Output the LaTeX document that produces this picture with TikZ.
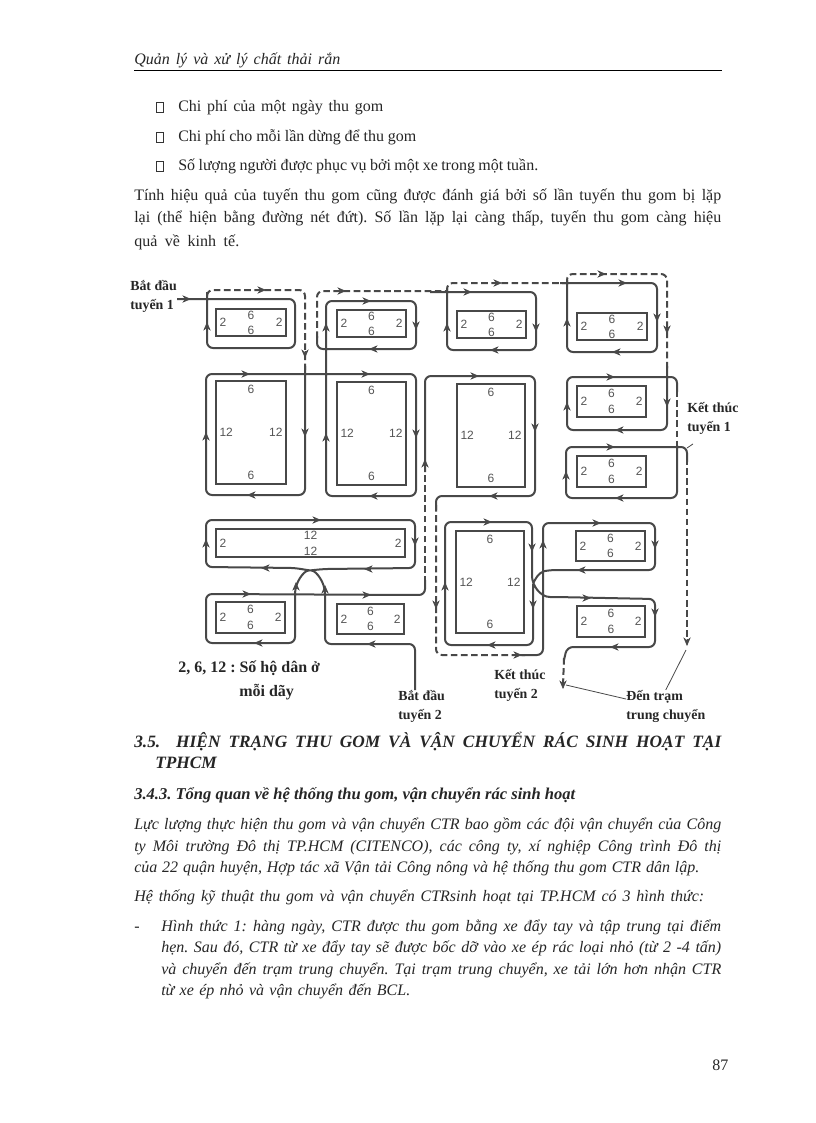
\documentclass[tikz,border=0pt]{standalone}
\usepackage{fontspec}
\setmainfont{Liberation Serif}
\newfontfamily\numfont{Liberation Sans}
\usetikzlibrary{arrows.meta}
\definecolor{routegray}{HTML}{484848}
\definecolor{numgray}{HTML}{555555}
\frenchspacing
\tikzset{
  pageline/.style={anchor=base west,inner sep=0pt,font=\fontsize{12}{14}\selectfont,text=black!85},
  itline/.style={pageline,font=\fontsize{12}{14}\selectfont\itshape},
  headline/.style={pageline,font=\fontsize{13}{15}\selectfont\bfseries\itshape},
  tickbox/.style={draw=black!80,line width=0.6pt,inner sep=0pt,minimum width=5pt,minimum height=7.5pt},
  citybox/.style={draw=routegray,line width=1.1pt,inner sep=0pt},
  citynum/.style={inner sep=0pt,text=numgray,font=\fontsize{9}{11}\selectfont\numfont},
  route/.style={draw=routegray,line width=1.5pt,rounded corners=4.5pt},
  dashroute/.style={route,dash pattern=on 5pt off 2.6pt},
  routetip/.style={draw=routegray,line width=0.4pt,-{Stealth[length=6.5pt,width=5.5pt]}},
  pointer/.style={draw=routegray,line width=0.6pt},
  maplabel/.style={inner sep=0pt,align=left,font=\fontsize{10.4}{14.25}\selectfont\bfseries,text=black!85},
}
% one line of page text, stretched to a given width
\newcommand{\pageline}[6]{\node[#2] (#1) at (#3,#4) {\makebox[\dimexpr#5pt*3/4\relax][s]{#6}};}
% one city block: name, centre x, y, width, height, top, side numbers, inset of the top number
\newcommand{\cityblock}[8]{%
  \node[citybox,minimum width=#4*0.75pt,minimum height=#5*0.75pt] (#1) at (#2,#3) {};
  \node[citynum] (#1t) at ([yshift=-#8]#1.north) {#6};
  \node[citynum] (#1b) at ([yshift=#8]#1.south) {#6};
  \node[citynum,anchor=west] (#1l) at ([xshift=3pt]#1.west) {#7};
  \node[citynum,anchor=east] (#1r) at ([xshift=-3pt]#1.east) {#7};
}
\begin{document}
\begin{tikzpicture}[x=0.75pt,y=-0.75pt]

\useasboundingbox (0,0) rectangle (816,1123);
\fill[white] (0,0) rectangle (816,1123);

% page header
\pageline{header}{itline}{134}{65}{206}{Quản lý và xử lý chất thải rắn}
\draw[line width=0.7pt] (134,70.5) -- (722,70.5);

% list above the map
\node[tickbox] (tick1) at (160,107) {};
\node[tickbox] (tick2) at (160,137) {};
\node[tickbox] (tick3) at (160,166) {};
\pageline{item1}{pageline}{178}{112}{205}{Chi phí của một ngày thu gom}
\pageline{item2}{pageline}{178}{141.5}{238}{Chi phí cho mỗi lần dừng để thu gom}
\pageline{item3}{pageline}{178}{171}{360}{Số lượng người được phục vụ bởi một xe trong một tuần.}
\pageline{para1}{pageline}{134}{200.5}{587}{Tính hiệu quả của tuyến thu gom cũng được đánh giá bởi số lần tuyến thu gom bị lặp}
\pageline{para2}{pageline}{134}{222.5}{587}{lại (thể hiện bằng đường nét đứt). Số lần lặp lại càng thấp, tuyến thu gom càng hiệu}
\pageline{para3}{pageline}{134}{246}{105}{quả về kinh tế.}

% the blocks
\cityblock{ba}{251}{322.5}{70}{27}{6}{2}{5pt}
\cityblock{bb}{371.5}{323.5}{69}{27}{6}{2}{5pt}
\cityblock{bc}{491.5}{324.5}{69}{27}{6}{2}{5pt}
\cityblock{bd}{612}{326.5}{70}{27}{6}{2}{5pt}
\cityblock{be}{251}{432.5}{70}{103}{6}{12}{7pt}
\cityblock{bf}{371.5}{433.5}{69}{103}{6}{12}{7pt}
\cityblock{bg}{491}{435.5}{68}{103}{6}{12}{7pt}
\cityblock{bh}{611.5}{401.5}{69}{31}{6}{2}{6pt}
\cityblock{bi}{611.5}{471.5}{69}{31}{6}{2}{6pt}
\cityblock{bj}{310.5}{543}{189}{28}{12}{2}{5pt}
\cityblock{bk}{250.5}{617.5}{69}{31}{6}{2}{6pt}
\cityblock{bl}{370.5}{619}{67}{30}{6}{2}{6pt}
\cityblock{bm}{490}{582}{68}{102}{6}{12}{7pt}
\cityblock{bn}{610.5}{546}{69}{30}{6}{2}{6pt}
\cityblock{bo}{611}{621.5}{68}{31}{6}{2}{6pt}

% labels on the map
\node[maplabel,anchor=north west] (start1) at (130,280) {Bắt đầu\\tuyến 1};
\node[maplabel,anchor=north west] (end1) at (687,402) {Kết thúc\\tuyến 1};
\node[maplabel,anchor=north west] (start2) at (398,690) {Bắt đầu\\tuyến 2};
\node[maplabel,anchor=north west] (end2) at (494,669) {Kết thúc\\tuyến 2};
\node[maplabel,anchor=north west] (station) at (626,690) {Đến trạm\\trung chuyển};
\node[maplabel,anchor=base west,font=\fontsize{12}{14}\selectfont\bfseries] (legend1) at (178,672) {2, 6, 12 : Số hộ dân ở};
\node[maplabel,anchor=base west,font=\fontsize{12}{14}\selectfont\bfseries] (legend2) at (239,696) {mỗi dãy};

% route 1
\draw[route] (start1.east |- 0,299) -- (295,299) -- (295,348) -- (207,348) -- (207,292);
\draw[dashroute] (207,296) -- (207,290) -- (305,290) -- (305,372);
\draw[route] (305,366) -- (305,495) -- (206,495) -- (206,374) -- (416,374) -- (416,496) -- (326,496) -- (326,301) -- (416,301) -- (416,349) -- (317,349) -- (317,336);
\draw[dashroute] (317,338) -- (317,291) -- (447,291);
\draw[route] (430,292) -- (536,292) -- (536,350) -- (447,350) -- (447,288);
\draw[dashroute] (447,292) -- (447,283) -- (567,283);
\draw[route] (560,283) -- (657,283) -- (657,352) -- (567,352) -- (567,280);
\draw[dashroute] (567,284) -- (567,274) -- (667,274) -- (667,370);
\draw[route] (667,366) -- (667,430) -- (567,430) -- (567,377) -- (677,377) -- (677,392);
\draw[dashroute] (677,390) -- (677,447);
\draw[route] (677,445) -- (677,498) -- (566,498) -- (566,447) -- (687,447) -- (687,462);
\draw[dashroute] (687,458) -- (687,644);

% route 2
\draw[route] (start2.north -| 415,0) -- (415,644) -- (325,644) -- (325,600) .. controls (325,582) and (316,571) .. (306,570) -- (296,568) -- (206,567) -- (206,520) -- (415,520) -- (415,568) -- (324,569) -- (314,570) .. controls (304,571) and (295,582) .. (295,600) -- (295,643) -- (206,643) -- (206,594) -- (425,595) -- (425,580);
\draw[dashroute] (425,583) -- (425,470);
\draw[route] (425,472) -- (425,376) -- (535,376) -- (535,496) -- (436,496) -- (436,510);
\draw[dashroute] (436,505) -- (436,655) -- (525,655);
\draw[route] (520,655) -- (543,655) -- (543,523) -- (655,523) -- (655,570) -- (550,570) .. controls (540,572) and (533,580) .. (533,592) -- (533,645) -- (445,645) -- (445,522) -- (532,522) -- (532,570) .. controls (532,585) and (540,597) .. (556,597) -- (655,599) -- (655,647) -- (567,647) -- (564,660);
\draw[dashroute] (564,658) -- (563,686);

% arrow heads of route 1
\draw[routetip] (184,299) -- +(7,0);
\draw[routetip] (207,329) -- +(0,-7);
\draw[routetip] (259,290) -- +(7,0);
\draw[routetip] (305,351) -- +(0,7);
\draw[routetip] (243,374) -- +(7,0);
\draw[routetip] (305,430) -- +(0,7);
\draw[routetip] (254,495) -- +(-7,0);
\draw[routetip] (206,439) -- +(0,-7);
\draw[routetip] (363,374) -- +(7,0);
\draw[routetip] (416,431) -- +(0,7);
\draw[routetip] (376,496) -- +(-7,0);
\draw[routetip] (326,440) -- +(0,-7);
\draw[routetip] (326,330) -- +(0,-7);
\draw[routetip] (364,301) -- +(7,0);
\draw[routetip] (416,323) -- +(0,7);
\draw[routetip] (376,349) -- +(-7,0);
\draw[routetip] (339,291) -- +(7,0);
\draw[routetip] (495,283) -- +(7,0);
\draw[routetip] (465,292) -- +(7,0);
\draw[routetip] (536,325) -- +(0,7);
\draw[routetip] (497,350) -- +(-7,0);
\draw[routetip] (447,330) -- +(0,-7);
\draw[routetip] (620,283) -- +(7,0);
\draw[routetip] (657,315) -- +(0,7);
\draw[routetip] (619,352) -- +(-7,0);
\draw[routetip] (567,325) -- +(0,-7);
\draw[routetip] (599,274) -- +(7,0);
\draw[routetip] (667,327) -- +(0,7);
\draw[routetip] (667,400) -- +(0,7);
\draw[routetip] (622,430) -- +(-7,0);
\draw[routetip] (567,409) -- +(0,-7);
\draw[routetip] (608,377) -- +(7,0);
\draw[routetip] (608,447) -- +(7,0);
\draw[routetip] (566,478) -- +(0,-7);
\draw[routetip] (622,498) -- +(-7,0);
\draw[routetip] (687,639) -- +(0,7);

% arrow heads of route 2
\draw[routetip] (374,644) -- +(-7,0);
\draw[routetip] (325,592) -- +(0,-7);
\draw[routetip] (206,546) -- +(0,-7);
\draw[routetip] (314,520) -- +(7,0);
\draw[routetip] (415,539) -- +(0,7);
\draw[routetip] (371,569) -- +(-7,0);
\draw[routetip] (268,568) -- +(-7,0);
\draw[routetip] (296,589) -- +(0,-7);
\draw[routetip] (261,643) -- +(-7,0);
\draw[routetip] (244,594) -- +(7,0);
\draw[routetip] (364,595) -- +(7,0);
\draw[routetip] (425,466) -- +(0,-7);
\draw[routetip] (472,376) -- +(7,0);
\draw[routetip] (535,425) -- +(0,7);
\draw[routetip] (496,496) -- +(-7,0);
\draw[routetip] (436,602) -- +(0,7);
\draw[routetip] (515,655) -- +(7,0);
\draw[routetip] (543,547) -- +(0,-7);
\draw[routetip] (594,523) -- +(7,0);
\draw[routetip] (655,542) -- +(0,7);
\draw[routetip] (584,570) -- +(-7,0);
\draw[routetip] (533,602) -- +(0,7);
\draw[routetip] (494,645) -- +(-7,0);
\draw[routetip] (445,589) -- +(0,-7);
\draw[routetip] (485,522) -- +(7,0);
\draw[routetip] (532,545) -- +(0,7);
\draw[routetip] (584,598) -- +(7,0);
\draw[routetip] (655,610) -- +(0,7);
\draw[routetip] (617,647) -- +(-7,0);
\draw[routetip] (563,682) -- +(0,7);

% label pointers
\draw[pointer] ([xshift=4.5pt,yshift=-7pt]end1.south west) -- (687,448);
\draw[pointer] ([yshift=5.5pt]station.west) -- (566,685);
\draw[pointer] (station.north) -- (686,650);

% text below the map
\pageline{head1}{headline}{134}{747}{587}{3.5. \ HIỆN TRẠNG THU GOM VÀ VẬN CHUYỂN RÁC SINH HOẠT TẠI}
\node[headline] (head2) at (155,768) {TPHCM};
\node[headline,font=\fontsize{12.4}{14}\selectfont\bfseries\itshape] (head3) at (134,799) {3.4.3. Tổng quan về hệ thống thu gom, vận chuyển rác sinh hoạt};
\pageline{body1}{itline}{134}{829}{587}{Lực lượng thực hiện thu gom và vận chuyển CTR bao gồm các đội vận chuyển của Công}
\pageline{body2}{itline}{134}{851}{587}{ty Môi trường Đô thị TP.HCM (CITENCO), các công ty, xí nghiệp Công trình Đô thị}
\pageline{body3}{itline}{134}{872}{565}{của 22 quận huyện, Hợp tác xã Vận tải Công nông và hệ thống thu gom CTR dân lập.}
\pageline{body4}{itline}{134}{901}{570}{Hệ thống kỹ thuật thu gom và vận chuyển CTRsinh hoạt tại TP.HCM có 3 hình thức:}
\node[itline] (dash1) at (134,931) {-};
\pageline{form1}{itline}{161}{931}{560}{Hình thức 1: hàng ngày, CTR được thu gom bằng xe đẩy tay và tập trung tại điểm}
\pageline{form2}{itline}{161}{952}{560}{hẹn. Sau đó, CTR từ xe đẩy tay sẽ được bốc dỡ vào xe ép rác loại nhỏ (từ 2 -4 tấn)}
\pageline{form3}{itline}{161}{974}{560}{và chuyển đến trạm trung chuyển. Tại trạm trung chuyển, xe tải lớn hơn nhận CTR}
\pageline{form4}{itline}{161}{995}{249}{từ xe ép nhỏ và vận chuyển đến BCL.}

% page number
\node[pageline] (pagenum) at (712,1070) {87};

\end{tikzpicture}
\end{document}
